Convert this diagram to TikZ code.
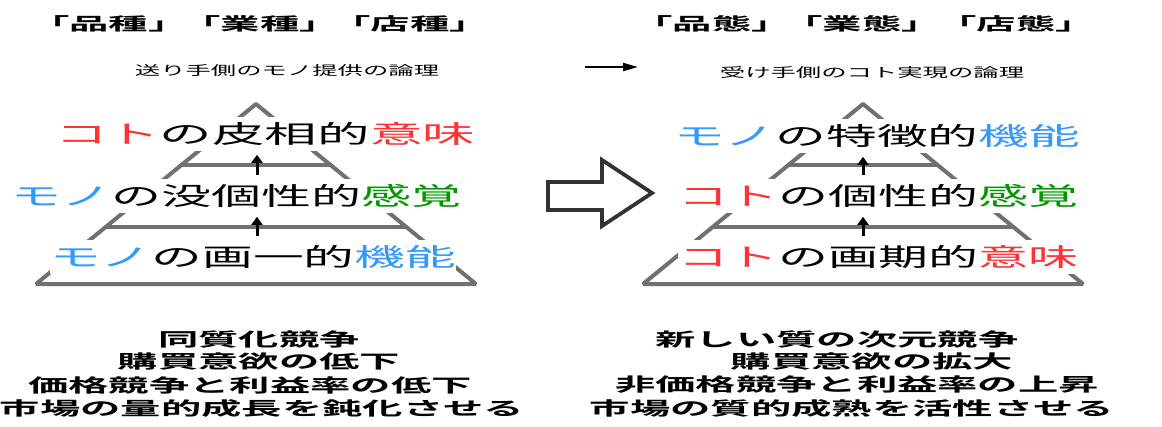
\documentclass[tikz,border=0pt]{standalone}
\usepackage{fontspec}
\usepackage{graphicx}
\usetikzlibrary{arrows.meta}
\setmainfont{Noto Sans CJK JP}[BoldFont={Noto Sans CJK JP Bold}]
\definecolor{kred}{RGB}{255,51,51}
\definecolor{kblue}{RGB}{51,153,255}
\definecolor{kgreen}{RGB}{0,153,0}
\definecolor{pgray}{RGB}{112,112,112}
\definecolor{adark}{RGB}{51,51,51}
\newcommand\kR[1]{\textcolor{kred}{#1}}
\newcommand\kB[1]{\textcolor{kblue}{#1}}
\newcommand\kG[1]{\textcolor{kgreen}{#1}}
\newcommand\ttltext[1]{\scalebox{2.25}[1]{\fontsize{17.5}{19}\selectfont\bfseries #1}}
\newcommand\subtext[1]{\scalebox{1.95}[1]{\fontsize{13}{14}\selectfont #1}}
\newcommand\rowtext[2][2.0]{\scalebox{#1}[1]{\fontsize{25}{27}\selectfont #2}}
\newcommand\bottext[1]{\scalebox{2.18}[1]{\fontsize{18.5}{20}\selectfont\bfseries #1}}
\tikzset{
  txt/.style={inner sep=0pt},
  rowbox/.style={fill=white, inner xsep=0pt, inner ysep=5pt},
  pyr/.style={draw=pgray, line width=4pt, line join=bevel},
  uparr/.style={-{Triangle[length=8pt,width=11pt]}, line width=3pt, shorten <=4pt, shorten >=4pt},
  bigarrow/.style={draw=adark, line width=3.8pt, line join=miter, fill=white},
  smallarr/.style={-{Triangle[length=15pt,width=8pt]}, line width=2pt}
}
\begin{document}
\begin{tikzpicture}[x=1pt,y=-1pt]
\useasboundingbox (0,0) rectangle (1162,426);
% titles
\node[txt] (t1) at (109,24) {\ttltext{「品種」}};
\node[txt] (t2) at (260,24) {\ttltext{「業種」}};
\node[txt] (t3) at (410,24) {\ttltext{「店種」}};
\node[txt] (t4) at (712,24) {\ttltext{「品態」}};
\node[txt] (t5) at (862,24) {\ttltext{「業態」}};
\node[txt] (t6) at (1016,24) {\ttltext{「店態」}};
% subtitles
\node[txt] (s1) at (287,71) {\subtext{送り手側のモノ提供の論理}};
\node[txt] (s2) at (872,73) {\subtext{受け手側のコト実現の論理}};
\coordinate (sa) at (585,67);
\coordinate (sb) at (638,67);
\draw[smallarr] (sa) -- (sb);
% left pyramid
\draw[pyr] (36,284) -- (256,104) -- (476,284) -- cycle;
\draw[pyr] (181.5,165) -- (330.5,165);
\draw[pyr] (106,227) -- (406,227);
% right pyramid
\draw[pyr] (643,284) -- (863,104) -- (1083,284) -- cycle;
\draw[pyr] (788.5,165) -- (937.5,165);
\draw[pyr] (713,227) -- (1013,227);
% rows left
\node[rowbox] (l1) at (265,134) {\rowtext[2.1]{\kR{コト}の皮相的\kR{意味}}};
\node[rowbox] (l2) at (237,196) {\rowtext{\kB{モノ}の没個性的\kG{感覚}}};
\node[rowbox] (l3) at (253,257) {\rowtext[2.03]{\kB{モノ}の画一的\kB{機能}}};
% rows right
\node[rowbox] (r1) at (877,136) {\rowtext[2.03]{\kB{モノ}の特徴的\kB{機能}}};
\node[rowbox] (r2) at (878,196) {\rowtext{\kR{コト}の個性的\kG{感覚}}};
\node[rowbox] (r3) at (878,257) {\rowtext{\kR{コト}の画期的\kR{意味}}};
% up arrows
\coordinate (lx) at (257,0);
\coordinate (rx) at (863,0);
\draw[uparr] (lx |- l2.north) -- (lx |- l1.south);
\draw[uparr] (lx |- l3.north) -- (lx |- l2.south);
\draw[uparr] (rx |- r2.north) -- (rx |- r1.south);
\draw[uparr] (rx |- r3.north) -- (rx |- r2.south);
% big hollow arrow
\draw[bigarrow] (548,182) -- (602,182) -- (602,160) -- (652,193) -- (602,226) -- (602,210) -- (548,210) -- cycle;
% bottom texts
\node[txt] (lb1) at (259,339) {\bottext{同質化競争}};
\node[txt] (lb2) at (259,362) {\bottext{購買意欲の低下}};
\node[txt] (lb3) at (250,385) {\bottext{価格競争と利益率の低下}};
\node[txt] (lb4) at (262,408) {\bottext{市場の量的成長を鈍化させる}};
\node[txt] (rb1) at (837,339) {\bottext{新しい質の次元競争}};
\node[txt] (rb2) at (872,362) {\bottext{購買意欲の拡大}};
\node[txt] (rb3) at (857,385) {\bottext{非価格競争と利益率の上昇}};
\node[txt] (rb4) at (852,408) {\bottext{市場の質的成熟を活性させる}};
\end{tikzpicture}
\end{document}
